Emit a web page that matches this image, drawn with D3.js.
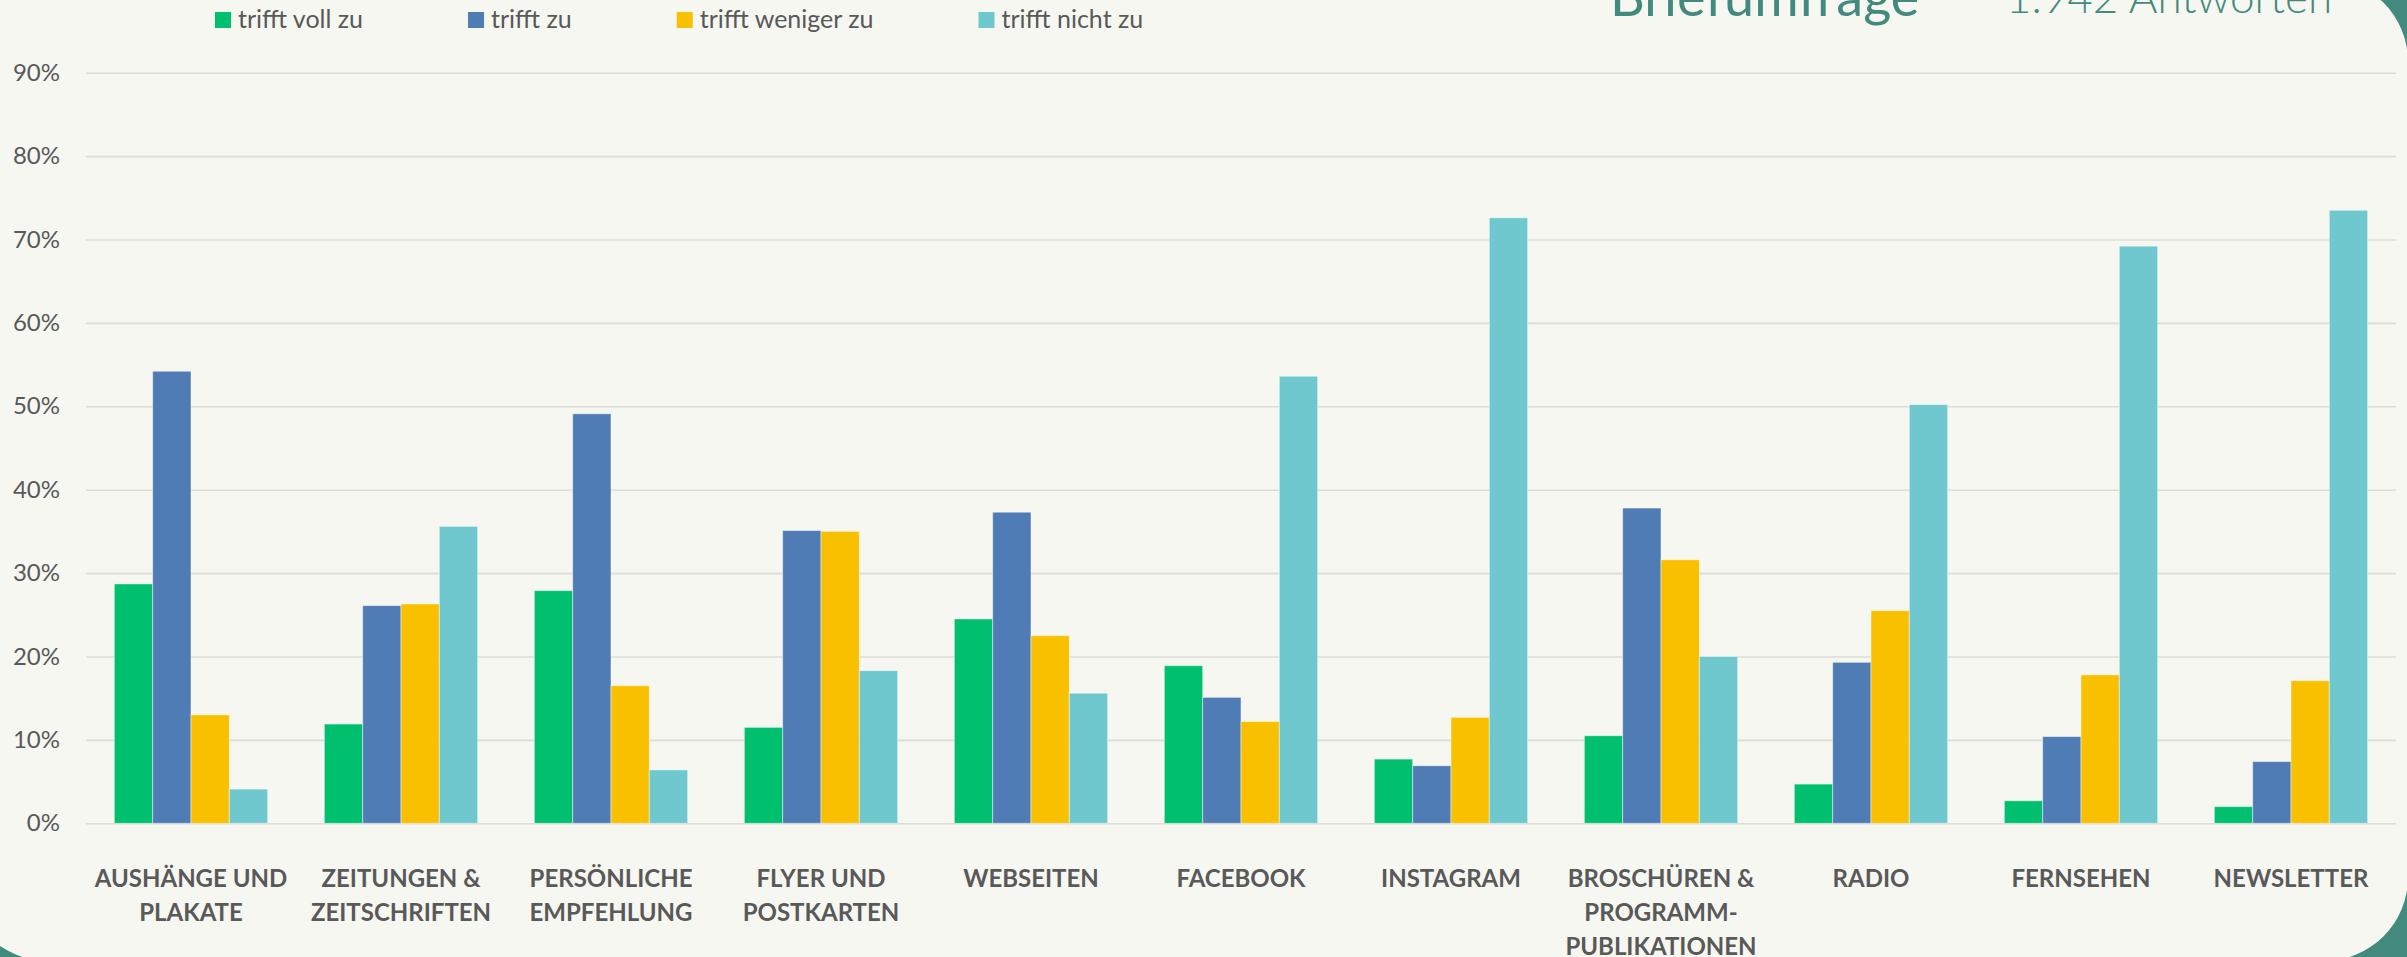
<!DOCTYPE html>
<html>
<head>
<meta charset="utf-8">
<script src="https://d3js.org/d3.v7.min.js"></script>
<style>
  html, body { margin: 0; padding: 0; background: #438a7e; overflow: hidden; }
  svg { display: block; font-family: 'Lato', 'Noto Sans', sans-serif; }
</style>
</head>
<body>
<div id="content"></div>
<script>
var categories = ['AUSHÄNGE UND\nPLAKATE', 'ZEITUNGEN &\nZEITSCHRIFTEN', 'PERSÖNLICHE\nEMPFEHLUNG',
                  'FLYER UND\nPOSTKARTEN', 'WEBSEITEN', 'FACEBOOK', 'INSTAGRAM',
                  'BROSCHÜREN &\nPROGRAMM-\nPUBLIKATIONEN', 'RADIO', 'FERNSEHEN', 'NEWSLETTER'];
var seriesNames = ['trifft voll zu', 'trifft zu', 'trifft weniger zu', 'trifft nicht zu'];
var vollZu    = [28.7, 11.9, 27.9, 11.5, 24.5, 18.9, 7.7, 10.5, 4.7, 2.7, 2.0];
var zu        = [54.2, 26.1, 49.1, 35.1, 37.3, 15.1, 6.9, 37.8, 19.3, 10.4, 7.4];
var wenigerZu = [13.0, 26.3, 16.5, 35.0, 22.5, 12.2, 12.7, 31.6, 25.5, 17.8, 17.1];
var nichtZu   = [4.1, 35.6, 6.4, 18.3, 15.6, 53.6, 72.6, 20.0, 50.2, 69.2, 73.5];
var yTicks = [0, 10, 20, 30, 40, 50, 60, 70, 80, 90];
var title = 'Briefumfrage';
var subtitle = '1.942 Antworten';

var seriesValues = [vollZu, zu, wenigerZu, nichtZu];
var colors = ['#00bf6f', '#4f7cb5', '#f9c000', '#6ec8cd'];

var W = 2407, H = 957;
var margin = { top: 72.7, left: 86, right: 11, bottom: 133.7 };
var width = W - margin.left - margin.right,
    height = H - margin.top - margin.bottom;

var svg = d3.select('#content').append('svg')
    .attr('width', W)
    .attr('height', H);

// teal frame + light rounded panel
svg.append('rect').attr('width', W).attr('height', H).attr('fill', '#438a7e');
svg.append('rect')
    .attr('x', -36).attr('y', -22)
    .attr('width', 2444).attr('height', 983)
    .attr('rx', 84).attr('ry', 84)
    .attr('fill', '#f6f7f1');

var g = svg.append('g')
    .attr('transform', 'translate(' + margin.left + ',' + margin.top + ')');

var yScale = d3.scaleLinear().domain([0, 90]).range([height, 0]);

var x0 = d3.scaleBand()
    .domain(d3.range(categories.length))
    .range([0, width])
    .paddingInner(0.27)
    .paddingOuter(0.135);

var x1 = d3.scaleBand()
    .domain(d3.range(seriesNames.length))
    .range([0, x0.bandwidth()]);

// gridlines + tick labels
var yAxis = d3.axisLeft(yScale)
    .tickValues(yTicks)
    .tickSize(-width)
    .tickPadding(26)
    .tickFormat(function(d){ return d + '%'; });

var yGuide = g.append('g').call(yAxis);
yGuide.select('.domain').remove();
yGuide.selectAll('line')
    .style('stroke', '#dcdcd8')
    .style('stroke-width', 1.6);
yGuide.selectAll('text')
    .style('fill', '#595959')
    .style('font-size', '24px')
    .style('font-family', 'Lato');

// bars
var groups = g.selectAll('.grp').data(categories)
    .enter().append('g')
    .attr('class', 'grp')
    .attr('transform', function(d, i){ return 'translate(' + x0(i) + ',0)'; });

groups.selectAll('rect')
    .data(function(d, i){
        return seriesValues.map(function(vals, s){ return { s: s, v: vals[i] }; });
    })
    .enter().append('rect')
    .attr('x', function(d){ return x1(d.s); })
    .attr('width', x1.bandwidth())
    .attr('y', function(d){ return yScale(d.v); })
    .attr('height', function(d){ return height - yScale(d.v); })
    .style('fill', function(d){ return colors[d.s]; })
    .style('stroke', 'rgba(255,255,255,0.45)')
    .style('stroke-width', 1);

// category labels
var catLabels = g.selectAll('.cat').data(categories)
    .enter().append('text')
    .attr('class', 'cat')
    .attr('text-anchor', 'middle')
    .attr('transform', function(d, i){
        return 'translate(' + (x0(i) + x0.bandwidth() / 2) + ',' + (height + 63.5) + ')';
    })
    .style('fill', '#595959')
    .style('font-size', '24px')
    .style('font-weight', 'bold');

catLabels.selectAll('tspan')
    .data(function(d){ return d.split('\n'); })
    .enter().append('tspan')
    .attr('x', 0)
    .attr('dy', function(d, i){ return i === 0 ? 0 : 34; })
    .text(function(d){ return d; });

// legend
var legend = svg.append('g').attr('transform', 'translate(215,12)');
var lx = 0;
seriesNames.forEach(function(name, i){
    var item = legend.append('g').attr('transform', 'translate(' + lx + ',0)');
    item.append('rect')
        .attr('width', 16).attr('height', 16)
        .style('fill', colors[i]);
    var t = item.append('text')
        .attr('x', 23).attr('y', 16)
        .style('fill', '#595959')
        .style('font-size', '25px')
        .text(name);
    lx += 23 + t.node().getComputedTextLength() + 105;
});

// title
svg.append('text')
    .attr('x', 1610).attr('y', 16)
    .style('fill', '#438a7e')
    .style('font-size', '54px')
    .text(title);

svg.append('text')
    .attr('x', 2006).attr('y', 13)
    .style('fill', '#438a7e')
    .style('font-size', '44px')
    .style('font-weight', 300)
    .text(subtitle);
</script>
</body>
</html>
